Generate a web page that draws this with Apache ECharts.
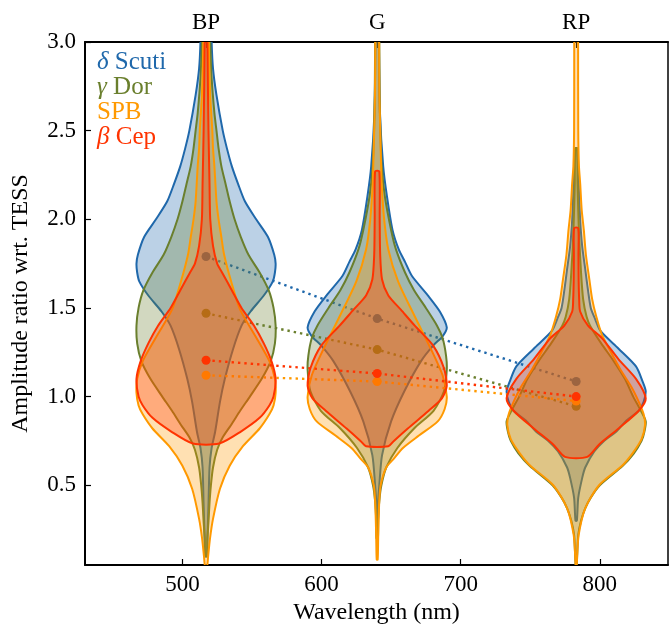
<!DOCTYPE html>
<html>
<head>
<meta charset="utf-8">
<script src="https://cdn.jsdelivr.net/npm/echarts@6/dist/echarts.min.js"></script>
<style>
  html, body { margin: 0; padding: 0; background: #ffffff; }
  #chart { width: 670px; height: 630px; }
</style>
</head>
<body>
<div id="chart"></div>
<script>
// Gaia passbands and their positions on the wavelength axis (nm)
const bandNames = ['BP', 'G', 'RP'];
const bandWavelength = [517, 640, 783];

// Tick values
const xTicks = [500, 600, 700, 800];
const yTicks = [0.5, 1.0, 1.5, 2.0, 2.5, 3.0];

// Pulsator classes
const classNames = ['δ Scuti', 'γ Dor', 'SPB', 'β Cep'];

// Violin outlines: [amplitude ratio, relative density], top to bottom
const dsctBP = [[3.2,.07],[3.0,.08],[2.85,.1],[2.7,.15],[2.5,.24],[2.4,.3],[2.3,.37],[2.2,.46],[2.1,.56],[2.0,.72],[1.9,.89],[1.8,.98],[1.75,1.0],[1.7,.99],[1.65,.96],[1.57,.83],[1.48,.64],[1.4,.51],[1.27,.39],[1.1,.27],[0.97,.2],[0.8,.13],[0.71,.08],[0.6,.05],[0.4,.036],[0.2,.02],[0.1,.014]];
const dsctG  = [[3.2,.025],[3.0,.025],[2.6,.04],[2.3,.086],[2.13,.14],[1.94,.22],[1.83,.31],[1.76,.4],[1.68,.5],[1.57,.73],[1.48,.9],[1.39,1.0],[1.34,.94],[1.29,.81],[1.2,.63],[1.03,.39],[0.86,.2],[0.67,.07],[0.5,.03],[0.41,.014],[0.3,.01]];
const dsctRP = [[2.4,.014],[2.2,.036],[2.0,.057],[1.85,.086],[1.72,.13],[1.6,.17],[1.5,.21],[1.44,.27],[1.37,.35],[1.27,.61],[1.17,.86],[1.08,.96],[1.03,1.0],[0.97,.97],[0.92,.9],[0.86,.71],[0.8,.57],[0.75,.4],[0.69,.26],[0.6,.13],[0.54,.086],[0.43,.03],[0.3,.01]];

const gdorBP = [[3.2,.05],[3.0,.06],[2.8,.08],[2.6,.12],[2.5,.15],[2.4,.18],[2.3,.22],[2.2,.28],[2.1,.34],[2.0,.41],[1.9,.5],[1.8,.61],[1.7,.77],[1.6,.9],[1.5,.97],[1.4,1.0],[1.3,.99],[1.2,.93],[1.1,.8],[1.0,.63],[0.92,.49],[0.84,.36],[0.77,.24],[0.7,.16],[0.6,.1],[0.5,.07],[0.4,.05],[0.3,.036],[0.2,.02],[0.1,.014]];
const gdorG  = [[3.2,.025],[3.0,.03],[2.7,.035],[2.5,.045],[2.3,.065],[2.13,.11],[1.94,.2],[1.83,.27],[1.7,.4],[1.6,.53],[1.5,.7],[1.4,.86],[1.33,.94],[1.23,.99],[1.15,1.0],[1.03,.96],[0.92,.81],[0.82,.53],[0.71,.29],[0.6,.13],[0.5,.06],[0.41,.03],[0.3,.014],[0.2,.01]];
const gdorRP = [[2.4,.014],[2.2,.02],[2.05,.03],[1.9,.043],[1.7,.07],[1.55,.1],[1.45,.15],[1.4,.2],[1.3,.36],[1.2,.54],[1.1,.7],[1.0,.82],[0.92,.93],[0.86,1.0],[0.8,.98],[0.75,.94],[0.68,.83],[0.61,.67],[0.5,.34],[0.43,.21],[0.37,.13],[0.3,.07],[0.22,.03],[0.1,.014],[0.05,.007]];

const spbBP = [[3.2,.04],[3.0,.04],[2.7,.06],[2.5,.09],[2.4,.1],[2.3,.12],[2.1,.15],[2.0,.18],[1.9,.22],[1.8,.26],[1.65,.36],[1.49,.49],[1.34,.71],[1.2,.91],[1.1,.99],[1.02,1.0],[0.95,.97],[0.9,.91],[0.82,.77],[0.72,.53],[0.61,.34],[0.48,.2],[0.31,.1],[0.2,.057],[0.1,.03],[0.04,.014]];
const spbG  = [[3.2,.028],[3.0,.028],[2.7,.032],[2.4,.05],[2.2,.065],[2.0,.1],[1.83,.16],[1.65,.3],[1.46,.53],[1.27,.77],[1.12,.94],[1.0,1.0],[0.93,.97],[0.86,.87],[0.78,.6],[0.71,.37],[0.65,.24],[0.6,.13],[0.5,.05],[0.41,.03],[0.3,.02],[0.2,.014],[0.08,.007]];
const spbRP = [[3.2,.028],[3.0,.028],[2.5,.03],[2.3,.04],[2.2,.058],[2.05,.08],[1.94,.11],[1.8,.14],[1.66,.19],[1.55,.23],[1.45,.29],[1.35,.37],[1.25,.5],[1.15,.64],[1.05,.8],[0.97,.9],[0.9,.97],[0.84,.99],[0.76,.94],[0.68,.81],[0.61,.66],[0.5,.33],[0.37,.13],[0.22,.036],[0.1,.014],[0.05,.007]];

const bcepBP = [[3.2,.02],[3.0,.02],[2.5,.035],[2.2,.05],[2.0,.06],[1.85,.1],[1.75,.16],[1.7,.23],[1.6,.37],[1.5,.51],[1.4,.69],[1.3,.83],[1.2,.94],[1.1,1.0],[1.0,.97],[0.95,.91],[0.88,.77],[0.8,.49],[0.735,.19]];
const bcepG  = [[2.27,.03],[2.0,.036],[1.8,.043],[1.66,.07],[1.57,.16],[1.49,.34],[1.4,.54],[1.29,.8],[1.16,.96],[1.06,1.0],[0.99,.93],[0.92,.74],[0.82,.44],[0.75,.24],[0.72,.16]];
const bcepRP = [[1.95,.03],[1.8,.033],[1.65,.036],[1.55,.043],[1.48,.057],[1.4,.17],[1.33,.37],[1.21,.61],[1.1,.86],[0.99,1.0],[0.92,.9],[0.82,.61],[0.73,.33],[0.66,.16]];

// Central values per class and band
const dsctMid = [1.79, 1.44, 1.085];
const gdorMid = [1.47, 1.265, 0.945];
const spbMid  = [1.12, 1.085, 0.975];
const bcepMid = [1.205, 1.13, 1.0];

const classColors = ['#1f68ab', '#6a7f2d', '#ff9900', '#ff3300'];
const classProfiles = [
  [dsctBP, dsctG, dsctRP],
  [gdorBP, gdorG, gdorRP],
  [spbBP, spbG, spbRP],
  [bcepBP, bcepG, bcepRP]
];
const classMids = [dsctMid, gdorMid, spbMid, bcepMid];

const FONT = '"Liberation Serif", "Times New Roman", serif';
const FS = 23;        // tick labels
const FS_NAME = 24;   // axis titles
const FS_KEY = 25;    // class key
const HALF_WIDTH_NM = 50; // violins are 100 nm wide at their densest point

function violinRenderer(profiles, color) {
  const fill = echarts.color.modifyAlpha(color, 0.3);
  return function (params, api) {
    const prof = profiles[params.dataIndex];
    const wl = api.value(0);
    const right = [], left = [];
    prof.forEach(function (p) {
      right.push(api.coord([wl + p[1] * HALF_WIDTH_NM, p[0]]));
      left.push(api.coord([wl - p[1] * HALF_WIDTH_NM, p[0]]));
    });
    const pts = right.concat(left.reverse());
    return {
      type: 'polygon',
      shape: { points: pts, smooth: 0.25 },
      style: { fill: fill, stroke: color, lineWidth: 2 }
    };
  };
}

const series = [];
classNames.forEach(function (name, ci) {
  const color = classColors[ci];
  series.push({
    type: 'custom',
    name: name,
    xAxisIndex: 0,
    yAxisIndex: 0,
    z: 2 + ci * 2,
    clip: true,
    silent: true,
    renderItem: violinRenderer(classProfiles[ci], color),
    encode: { x: 0, y: 1 },
    data: bandWavelength.map(function (w, i) { return [w, classMids[ci][i]]; })
  });
  series.push({
    type: 'line',
    name: name + ' centre',
    xAxisIndex: 0,
    yAxisIndex: 0,
    z: 3 + ci * 2,
    silent: true,
    symbol: 'circle',
    symbolSize: 9,
    showSymbol: true,
    itemStyle: { color: color },
    lineStyle: { color: color, width: 2.4, type: [2.4, 4] },
    data: bandWavelength.map(function (w, i) { return [w, classMids[ci][i]]; })
  });
});

const nameText = { fontFamily: FONT, fontSize: FS_NAME, color: '#000' };

const option = {
  animation: false,
  backgroundColor: '#ffffff',
  grid: { left: 85, right: 2, top: 42, bottom: 62, containLabel: false },
  xAxis: [
    {
      type: 'value', position: 'bottom', min: 430, max: 849,
      name: 'Wavelength (nm)', nameLocation: 'middle', nameGap: 36,
      nameTextStyle: nameText,
      axisLine: { show: true, onZero: false, lineStyle: { color: '#000', width: 2 } },
      axisTick: { show: true, inside: true, length: 6, customValues: xTicks, lineStyle: { color: '#000', width: 1.2 } },
      axisLabel: { customValues: xTicks, margin: 8, fontFamily: FONT, fontSize: FS, color: '#000' },
      splitLine: { show: false }
    },
    {
      type: 'value', position: 'top', min: 430, max: 849,
      axisLine: { show: true, onZero: false, lineStyle: { color: '#000', width: 2 } },
      axisTick: { show: true, inside: true, length: 6, customValues: bandWavelength, lineStyle: { color: '#000', width: 1.2 } },
      axisLabel: {
        customValues: bandWavelength, margin: 8, fontFamily: FONT, fontSize: FS, color: '#000',
        formatter: function (v) { const i = bandWavelength.indexOf(v); return i >= 0 ? bandNames[i] : ''; }
      },
      splitLine: { show: false }
    }
  ],
  yAxis: [
    {
      type: 'value', position: 'left', min: 0.05, max: 3.0,
      name: 'Amplitude ratio wrt. TESS', nameLocation: 'middle', nameGap: 52,
      nameTextStyle: nameText,
      axisLine: { show: true, onZero: false, lineStyle: { color: '#000', width: 2 } },
      axisTick: { show: true, inside: true, length: 6, customValues: yTicks, lineStyle: { color: '#000', width: 1.2 } },
      axisLabel: {
        customValues: yTicks, margin: 9, fontFamily: FONT, fontSize: FS, color: '#000',
        formatter: function (v) { return v.toFixed(1); }
      },
      splitLine: { show: false }
    },
    {
      type: 'value', position: 'right', min: 0.05, max: 3.0,
      axisLine: { show: true, onZero: false, lineStyle: { color: '#000', width: 1.5 } },
      axisTick: { show: false },
      axisLabel: { show: false },
      splitLine: { show: false }
    }
  ],
  graphic: classNames.map(function (name, ci) {
    const parts = name.split(' ');
    const greek = /^[α-ω]$/.test(parts[0]);
    const text = greek ? '{g|' + parts[0] + '} ' + parts.slice(1).join(' ') : name;
    return {
      type: 'text',
      z: 100,
      x: 97,
      y: 62 + ci * 25,
      style: {
        text: text,
        fill: classColors[ci],
        fontFamily: FONT,
        fontSize: FS_KEY,
        verticalAlign: 'middle',
        rich: { g: { fontStyle: 'italic', fontFamily: FONT, fontSize: FS_KEY, fill: classColors[ci] } }
      }
    };
  }),
  series: series
};

const chart = echarts.init(document.getElementById('chart'), null, { renderer: 'canvas' });
chart.setOption(option);
</script>
</body>
</html>
